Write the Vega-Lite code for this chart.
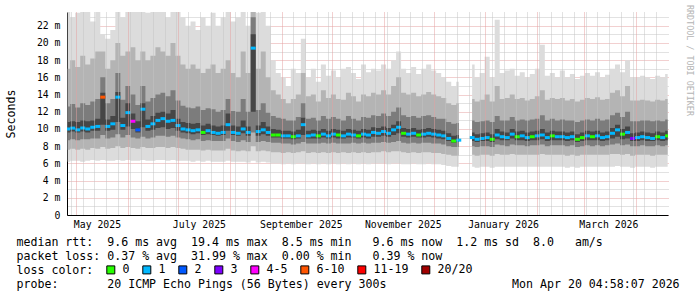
{
"$schema":"https://vega.github.io/schema/vega-lite/v6.json",
"width":601,"height":203,
"autosize":{"type":"none"},
"padding":{"left":67,"top":12,"right":29,"bottom":82},
"background":"white",
"view":{"stroke":null},
"config":{"font":"DejaVu Sans Mono",
 "legend":{"padding":0,"titlePadding":0},
 "axisY":{"labelFont":"DejaVu Sans Mono","labelFontSize":9.8,"labelColor":"black","labelPadding":7,"labelOverlap":false,"labelFlush":false,
   "ticks":false,"tickSize":0,"domainColor":"black","domainWidth":1,"grid":true,"gridDash":[1,1],"gridWidth":1,"zindex":1,
   "titleFont":"DejaVu Sans Mono","titleFontSize":11.6,"titleFontWeight":"normal","titleColor":"black",
   "titleX":-56,"titleY":101.5,"titleAngle":270,"titleAlign":"center","titleBaseline":"middle"}},
"title":{"text":"RRDTOOL / TOBI OETIKER","orient":"right","anchor":"start","frame":"group","angle":90,"font":"DejaVu Sans Mono","fontSize":8.4,"fontWeight":"normal","color":"#b4b4b4","offset":6,"dx":-7},
"data":{"values":[
{"t":"2025-04-26","s":1,"lo":6.2,"a":7.6,"b":8.7,"c":9.6,"m":10.0,"d":10.8,"e":12.6,"f":17.0,"hi":24.0,"k":"1"},
{"t":"2025-04-29","s":1,"lo":6.3,"a":7.7,"b":8.8,"c":9.7,"m":10.1,"d":10.9,"e":12.9,"f":18.0,"hi":23.0,"k":"1"},
{"t":"2025-05-02","s":1,"lo":6.3,"a":7.6,"b":8.7,"c":9.6,"m":9.9,"d":10.8,"e":12.5,"f":17.2,"hi":23.5,"k":"1"},
{"t":"2025-05-05","s":1,"lo":6.2,"a":7.7,"b":8.8,"c":9.7,"m":10.1,"d":11.0,"e":13.0,"f":18.5,"hi":25.0,"k":"1"},
{"t":"2025-05-08","s":1,"lo":6.3,"a":7.6,"b":8.8,"c":9.6,"m":10.0,"d":10.9,"e":12.8,"f":17.5,"hi":24.0,"k":"1"},
{"t":"2025-05-11","s":1,"lo":6.4,"a":7.8,"b":8.9,"c":9.8,"m":10.2,"d":11.0,"e":13.2,"f":18.2,"hi":22.5,"k":"1"},
{"t":"2025-05-14","s":1,"lo":6.3,"a":7.7,"b":8.9,"c":9.8,"m":10.3,"d":11.2,"e":13.5,"f":19.0,"hi":24.0,"k":"1"},
{"t":"2025-05-17","s":1,"lo":6.4,"a":7.9,"b":9.3,"c":10.5,"m":13.7,"d":14.2,"e":16.0,"f":19.0,"hi":21.0,"k":"6-10"},
{"t":"2025-05-20","s":1,"lo":6.3,"a":7.7,"b":8.9,"c":9.8,"m":10.3,"d":11.1,"e":13.0,"f":17.0,"hi":20.5,"k":"1"},
{"t":"2025-05-23","s":1,"lo":6.3,"a":7.8,"b":9.0,"c":9.9,"m":10.6,"d":11.5,"e":13.5,"f":18.0,"hi":21.5,"k":"1"},
{"t":"2025-05-26","s":1,"lo":6.4,"a":8.0,"b":9.4,"c":10.8,"m":13.7,"d":14.3,"e":16.5,"f":20.0,"hi":24.0,"k":"1"},
{"t":"2025-05-29","s":1,"lo":6.3,"a":7.8,"b":9.0,"c":9.9,"m":10.4,"d":11.3,"e":13.4,"f":18.5,"hi":23.0,"k":"1"},
{"t":"2025-06-01","s":1,"lo":6.4,"a":7.9,"b":9.3,"c":10.3,"m":11.9,"d":13.0,"e":15.0,"f":19.0,"hi":24.0,"k":"1"},
{"t":"2025-06-04","s":1,"lo":6.3,"a":7.8,"b":9.0,"c":10.0,"m":10.9,"d":11.8,"e":14.0,"f":19.5,"hi":25.0,"k":"4-5"},
{"t":"2025-06-07","s":1,"lo":6.3,"a":7.7,"b":8.9,"c":9.6,"m":9.9,"d":10.9,"e":12.8,"f":18.0,"hi":24.0,"k":"2"},
{"t":"2025-06-10","s":1,"lo":6.4,"a":7.9,"b":9.1,"c":10.2,"m":12.3,"d":13.0,"e":15.0,"f":19.0,"hi":24.0,"k":"1"},
{"t":"2025-06-13","s":1,"lo":6.3,"a":7.8,"b":8.9,"c":9.8,"m":10.3,"d":11.1,"e":13.2,"f":18.0,"hi":23.5,"k":"1"},
{"t":"2025-06-16","s":1,"lo":6.3,"a":7.8,"b":9.0,"c":9.9,"m":10.6,"d":11.5,"e":13.6,"f":18.5,"hi":24.0,"k":"1"},
{"t":"2025-06-19","s":1,"lo":6.4,"a":7.9,"b":9.2,"c":10.1,"m":11.0,"d":11.9,"e":14.0,"f":19.5,"hi":26.0,"k":"1"},
{"t":"2025-06-22","s":1,"lo":6.4,"a":7.9,"b":9.2,"c":10.2,"m":11.2,"d":12.0,"e":14.2,"f":19.0,"hi":24.0,"k":"1"},
{"t":"2025-06-25","s":1,"lo":6.3,"a":7.8,"b":9.1,"c":10.0,"m":10.9,"d":11.8,"e":13.8,"f":18.5,"hi":23.0,"k":"1"},
{"t":"2025-06-28","s":1,"lo":6.4,"a":7.9,"b":9.2,"c":10.1,"m":11.0,"d":12.2,"e":14.5,"f":20.0,"hi":26.0,"k":"1"},
{"t":"2025-07-01","s":1,"lo":6.3,"a":7.8,"b":9.0,"c":9.8,"m":10.4,"d":11.2,"e":13.3,"f":18.5,"hi":24.0,"k":"1"},
{"t":"2025-07-04","s":1,"lo":6.3,"a":7.7,"b":8.9,"c":9.6,"m":10.0,"d":10.8,"e":12.7,"f":17.5,"hi":23.0,"k":"1"},
{"t":"2025-07-07","s":1,"lo":6.3,"a":7.6,"b":8.8,"c":9.5,"m":9.9,"d":10.7,"e":12.5,"f":17.0,"hi":22.0,"k":"1"},
{"t":"2025-07-10","s":1,"lo":6.2,"a":7.6,"b":8.7,"c":9.4,"m":9.8,"d":10.6,"e":12.4,"f":17.5,"hi":22.5,"k":"1"},
{"t":"2025-07-13","s":1,"lo":6.3,"a":7.6,"b":8.8,"c":9.5,"m":9.9,"d":10.7,"e":12.6,"f":17.0,"hi":21.5,"k":"1"},
{"t":"2025-07-16","s":1,"lo":6.2,"a":7.5,"b":8.6,"c":9.3,"m":9.6,"d":10.4,"e":12.2,"f":16.5,"hi":23.0,"k":"0"},
{"t":"2025-07-19","s":1,"lo":6.3,"a":7.6,"b":8.7,"c":9.4,"m":9.8,"d":10.6,"e":12.4,"f":17.0,"hi":22.0,"k":"1"},
{"t":"2025-07-22","s":1,"lo":6.2,"a":7.5,"b":8.6,"c":9.3,"m":9.6,"d":10.4,"e":12.3,"f":17.5,"hi":23.5,"k":"1"},
{"t":"2025-07-25","s":1,"lo":6.2,"a":7.5,"b":8.6,"c":9.2,"m":9.5,"d":10.3,"e":12.0,"f":16.5,"hi":22.0,"k":"1"},
{"t":"2025-07-28","s":1,"lo":6.2,"a":7.5,"b":8.6,"c":9.3,"m":9.6,"d":10.4,"e":12.2,"f":17.0,"hi":23.0,"k":"1"},
{"t":"2025-07-31","s":1,"lo":6.3,"a":7.7,"b":8.9,"c":9.8,"m":10.5,"d":11.8,"e":13.5,"f":18.0,"hi":24.0,"k":"1"},
{"t":"2025-08-03","s":1,"lo":6.2,"a":7.5,"b":8.6,"c":9.3,"m":9.6,"d":10.4,"e":12.1,"f":16.5,"hi":22.5,"k":"1"},
{"t":"2025-08-06","s":1,"lo":6.2,"a":7.4,"b":8.5,"c":9.2,"m":9.5,"d":10.3,"e":12.0,"f":16.0,"hi":23.0,"k":"1"},
{"t":"2025-08-09","s":1,"lo":6.2,"a":7.5,"b":8.7,"c":9.5,"m":10.0,"d":11.0,"e":13.5,"f":19.0,"hi":26.0,"k":"1"},
{"t":"2025-08-12","s":1,"lo":6.1,"a":7.4,"b":8.5,"c":9.2,"m":9.6,"d":10.3,"e":12.0,"f":16.5,"hi":22.0,"k":"1"},
{"t":"2025-08-15","s":1,"lo":6.3,"a":8.0,"b":9.6,"c":12.0,"m":19.4,"d":21.0,"e":23.0,"f":26.0,"hi":30.0,"k":"1"},
{"t":"2025-08-18","s":1,"lo":6.1,"a":7.4,"b":8.5,"c":9.2,"m":9.7,"d":10.4,"e":12.2,"f":17.0,"hi":23.5,"k":"1"},
{"t":"2025-08-21","s":1,"lo":6.2,"a":7.5,"b":8.6,"c":9.4,"m":9.9,"d":10.8,"e":13.0,"f":19.0,"hi":25.0,"k":"1"},
{"t":"2025-08-24","s":1,"lo":6.1,"a":7.4,"b":8.5,"c":9.2,"m":9.6,"d":10.3,"e":11.9,"f":16.0,"hi":22.0,"k":"1"},
{"t":"2025-08-27","s":1,"lo":6.0,"a":7.3,"b":8.4,"c":9.0,"m":9.3,"d":10.0,"e":11.5,"f":14.5,"hi":18.0,"k":"0"},
{"t":"2025-08-30","s":1,"lo":6.0,"a":7.3,"b":8.4,"c":9.0,"m":9.3,"d":9.9,"e":11.3,"f":14.0,"hi":16.5,"k":"0"},
{"t":"2025-09-02","s":1,"lo":5.9,"a":7.2,"b":8.3,"c":8.9,"m":9.2,"d":9.8,"e":11.2,"f":13.5,"hi":16.0,"k":"1"},
{"t":"2025-09-05","s":1,"lo":6.0,"a":7.3,"b":8.3,"c":8.9,"m":9.2,"d":9.8,"e":11.0,"f":13.0,"hi":15.0,"k":"1"},
{"t":"2025-09-08","s":1,"lo":5.9,"a":7.2,"b":8.2,"c":8.8,"m":9.1,"d":9.7,"e":11.0,"f":13.5,"hi":17.0,"k":"0"},
{"t":"2025-09-11","s":1,"lo":6.0,"a":7.3,"b":8.3,"c":8.9,"m":9.2,"d":9.9,"e":11.4,"f":14.0,"hi":16.5,"k":"1"},
{"t":"2025-09-14","s":1,"lo":6.0,"a":7.4,"b":8.5,"c":9.3,"m":10.5,"d":11.3,"e":13.0,"f":16.5,"hi":20.5,"k":"1"},
{"t":"2025-09-17","s":1,"lo":5.9,"a":7.2,"b":8.3,"c":8.9,"m":9.2,"d":9.8,"e":11.2,"f":13.8,"hi":16.0,"k":"1"},
{"t":"2025-09-20","s":1,"lo":6.0,"a":7.3,"b":8.3,"c":8.9,"m":9.3,"d":9.9,"e":11.3,"f":14.0,"hi":17.0,"k":"1"},
{"t":"2025-09-23","s":1,"lo":5.9,"a":7.2,"b":8.3,"c":8.9,"m":9.2,"d":9.8,"e":11.0,"f":13.2,"hi":15.5,"k":"0"},
{"t":"2025-09-26","s":1,"lo":6.0,"a":7.3,"b":8.4,"c":9.0,"m":9.4,"d":10.0,"e":11.5,"f":14.5,"hi":17.5,"k":"1"},
{"t":"2025-09-29","s":1,"lo":5.9,"a":7.2,"b":8.3,"c":8.9,"m":9.2,"d":9.8,"e":11.2,"f":13.6,"hi":16.2,"k":"1"},
{"t":"2025-10-02","s":1,"lo":6.0,"a":7.3,"b":8.4,"c":9.0,"m":9.4,"d":10.0,"e":11.4,"f":14.0,"hi":16.8,"k":"1"},
{"t":"2025-10-05","s":1,"lo":5.9,"a":7.2,"b":8.3,"c":8.9,"m":9.3,"d":9.9,"e":11.2,"f":13.5,"hi":16.0,"k":"0"},
{"t":"2025-10-08","s":1,"lo":6.0,"a":7.3,"b":8.3,"c":8.9,"m":9.2,"d":9.8,"e":11.0,"f":13.4,"hi":17.0,"k":"1"},
{"t":"2025-10-11","s":1,"lo":5.9,"a":7.2,"b":8.3,"c":9.0,"m":9.4,"d":10.0,"e":11.5,"f":14.2,"hi":17.2,"k":"1"},
{"t":"2025-10-14","s":1,"lo":6.0,"a":7.3,"b":8.4,"c":9.0,"m":9.3,"d":9.9,"e":11.2,"f":13.8,"hi":16.5,"k":"1"},
{"t":"2025-10-17","s":1,"lo":5.9,"a":7.2,"b":8.3,"c":8.9,"m":9.2,"d":9.8,"e":11.0,"f":13.2,"hi":15.8,"k":"0"},
{"t":"2025-10-20","s":1,"lo":6.0,"a":7.3,"b":8.4,"c":9.0,"m":9.4,"d":10.0,"e":11.4,"f":14.0,"hi":17.5,"k":"1"},
{"t":"2025-10-23","s":1,"lo":5.9,"a":7.2,"b":8.3,"c":8.9,"m":9.3,"d":9.9,"e":11.3,"f":13.8,"hi":16.6,"k":"1"},
{"t":"2025-10-26","s":1,"lo":6.0,"a":7.3,"b":8.4,"c":9.1,"m":9.6,"d":10.2,"e":11.6,"f":14.2,"hi":17.0,"k":"1"},
{"t":"2025-10-29","s":1,"lo":6.0,"a":7.3,"b":8.4,"c":9.1,"m":9.5,"d":10.1,"e":11.5,"f":14.0,"hi":16.8,"k":"1"},
{"t":"2025-11-01","s":1,"lo":6.0,"a":7.4,"b":8.5,"c":9.2,"m":9.7,"d":10.3,"e":11.8,"f":14.5,"hi":17.5,"k":"1"},
{"t":"2025-11-04","s":1,"lo":5.9,"a":7.3,"b":8.4,"c":9.1,"m":9.5,"d":10.1,"e":11.5,"f":14.0,"hi":17.0,"k":"1"},
{"t":"2025-11-07","s":1,"lo":6.0,"a":7.4,"b":8.5,"c":9.3,"m":9.9,"d":10.5,"e":12.0,"f":15.0,"hi":18.0,"k":"1"},
{"t":"2025-11-10","s":1,"lo":6.0,"a":7.4,"b":8.6,"c":9.5,"m":10.2,"d":10.9,"e":12.5,"f":16.0,"hi":19.0,"k":"1"},
{"t":"2025-11-13","s":1,"lo":5.9,"a":7.3,"b":8.4,"c":9.1,"m":9.5,"d":10.1,"e":11.6,"f":14.2,"hi":17.0,"k":"0"},
{"t":"2025-11-16","s":1,"lo":5.9,"a":7.2,"b":8.3,"c":9.0,"m":9.4,"d":10.0,"e":11.4,"f":14.0,"hi":16.5,"k":"1"},
{"t":"2025-11-19","s":1,"lo":6.0,"a":7.3,"b":8.4,"c":9.1,"m":9.5,"d":10.1,"e":11.5,"f":14.2,"hi":17.2,"k":"1"},
{"t":"2025-11-22","s":1,"lo":5.9,"a":7.2,"b":8.3,"c":9.0,"m":9.3,"d":9.9,"e":11.3,"f":13.8,"hi":16.4,"k":"0"},
{"t":"2025-11-25","s":1,"lo":5.9,"a":7.3,"b":8.4,"c":9.0,"m":9.4,"d":10.0,"e":11.5,"f":14.0,"hi":17.0,"k":"1"},
{"t":"2025-11-28","s":1,"lo":6.0,"a":7.3,"b":8.4,"c":9.1,"m":9.5,"d":10.1,"e":11.6,"f":14.3,"hi":17.5,"k":"1"},
{"t":"2025-12-01","s":1,"lo":5.9,"a":7.2,"b":8.3,"c":9.0,"m":9.4,"d":10.0,"e":11.4,"f":14.0,"hi":16.8,"k":"1"},
{"t":"2025-12-04","s":1,"lo":5.9,"a":7.2,"b":8.3,"c":8.9,"m":9.3,"d":9.9,"e":11.2,"f":13.8,"hi":16.5,"k":"1"},
{"t":"2025-12-07","s":1,"lo":5.8,"a":7.1,"b":8.2,"c":8.8,"m":9.2,"d":9.8,"e":11.2,"f":13.6,"hi":16.0,"k":"1"},
{"t":"2025-12-10","s":1,"lo":5.7,"a":7.0,"b":8.0,"c":8.6,"m":8.9,"d":9.5,"e":10.8,"f":13.0,"hi":15.5,"k":"1"},
{"t":"2025-12-13","s":1,"lo":5.6,"a":6.9,"b":7.9,"c":8.4,"m":8.6,"d":9.2,"e":10.6,"f":12.8,"hi":15.0,"k":"0"},
{"t":"2025-12-16","s":1,"lo":5.6,"a":6.9,"b":7.9,"c":8.5,"m":8.7,"d":9.3,"e":10.7,"f":13.0,"hi":15.5,"k":"1"},
{"t":"2025-12-24","s":2,"lo":5.6,"a":7.0,"b":8.0,"c":8.6,"m":9.0,"d":9.6,"e":11.0,"f":13.5,"hi":17.5,"k":"1"},
{"t":"2025-12-27","s":2,"lo":5.5,"a":6.9,"b":7.9,"c":8.5,"m":8.8,"d":9.4,"e":10.8,"f":13.2,"hi":16.0,"k":"1"},
{"t":"2025-12-30","s":2,"lo":5.6,"a":7.0,"b":8.0,"c":8.6,"m":8.9,"d":9.5,"e":10.9,"f":13.4,"hi":16.5,"k":"1"},
{"t":"2026-01-02","s":2,"lo":5.6,"a":7.0,"b":8.0,"c":8.6,"m":9.0,"d":9.6,"e":11.0,"f":14.0,"hi":18.4,"k":"1"},
{"t":"2026-01-05","s":2,"lo":5.5,"a":6.9,"b":7.9,"c":8.5,"m":8.8,"d":9.4,"e":10.8,"f":13.2,"hi":16.0,"k":"0"},
{"t":"2026-01-08","s":2,"lo":5.6,"a":7.1,"b":8.2,"c":8.8,"m":9.3,"d":10.0,"e":11.5,"f":15.0,"hi":22.7,"k":"1"},
{"t":"2026-01-11","s":2,"lo":5.6,"a":7.0,"b":8.1,"c":8.7,"m":9.1,"d":9.7,"e":11.0,"f":13.5,"hi":16.5,"k":"1"},
{"t":"2026-01-14","s":2,"lo":5.6,"a":7.0,"b":8.0,"c":8.7,"m":9.0,"d":9.6,"e":11.0,"f":13.6,"hi":16.8,"k":"1"},
{"t":"2026-01-17","s":2,"lo":5.6,"a":7.1,"b":8.2,"c":8.9,"m":9.4,"d":10.0,"e":11.4,"f":14.0,"hi":17.0,"k":"1"},
{"t":"2026-01-20","s":2,"lo":5.6,"a":7.0,"b":8.1,"c":8.7,"m":9.1,"d":9.7,"e":11.0,"f":13.5,"hi":16.2,"k":"0"},
{"t":"2026-01-23","s":2,"lo":5.6,"a":7.0,"b":8.1,"c":8.7,"m":9.2,"d":9.8,"e":11.1,"f":13.6,"hi":16.6,"k":"1"},
{"t":"2026-01-26","s":2,"lo":5.6,"a":7.0,"b":8.0,"c":8.6,"m":9.0,"d":9.6,"e":11.0,"f":13.3,"hi":16.0,"k":"1"},
{"t":"2026-01-29","s":2,"lo":5.6,"a":7.0,"b":8.1,"c":8.7,"m":9.1,"d":9.7,"e":11.1,"f":13.5,"hi":16.4,"k":"0"},
{"t":"2026-02-01","s":2,"lo":5.6,"a":7.0,"b":8.1,"c":8.7,"m":9.2,"d":9.8,"e":11.2,"f":13.8,"hi":17.0,"k":"1"},
{"t":"2026-02-04","s":2,"lo":5.6,"a":7.1,"b":8.2,"c":8.8,"m":9.3,"d":10.0,"e":11.6,"f":14.5,"hi":19.8,"k":"1"},
{"t":"2026-02-07","s":2,"lo":5.6,"a":7.0,"b":8.0,"c":8.6,"m":9.0,"d":9.6,"e":11.0,"f":13.4,"hi":16.2,"k":"1"},
{"t":"2026-02-10","s":2,"lo":5.6,"a":7.0,"b":8.1,"c":8.7,"m":9.2,"d":9.8,"e":11.2,"f":13.6,"hi":16.5,"k":"0"},
{"t":"2026-02-13","s":2,"lo":5.6,"a":7.0,"b":8.1,"c":8.7,"m":9.1,"d":9.7,"e":11.0,"f":13.5,"hi":16.0,"k":"1"},
{"t":"2026-02-16","s":2,"lo":5.6,"a":7.0,"b":8.1,"c":8.7,"m":9.1,"d":9.7,"e":11.1,"f":13.6,"hi":16.8,"k":"1"},
{"t":"2026-02-19","s":2,"lo":5.5,"a":6.9,"b":8.0,"c":8.6,"m":9.0,"d":9.6,"e":11.0,"f":13.3,"hi":16.0,"k":"1"},
{"t":"2026-02-22","s":2,"lo":5.6,"a":7.0,"b":8.1,"c":8.7,"m":9.1,"d":9.7,"e":11.0,"f":13.5,"hi":16.4,"k":"1"},
{"t":"2026-02-25","s":2,"lo":5.5,"a":6.9,"b":7.9,"c":8.5,"m":8.8,"d":9.4,"e":10.8,"f":13.2,"hi":15.8,"k":"0"},
{"t":"2026-02-28","s":2,"lo":5.6,"a":7.0,"b":8.0,"c":8.6,"m":9.0,"d":9.6,"e":11.0,"f":13.4,"hi":16.2,"k":"0"},
{"t":"2026-03-03","s":2,"lo":5.6,"a":7.0,"b":8.1,"c":8.7,"m":9.2,"d":9.8,"e":11.1,"f":13.6,"hi":16.5,"k":"1"},
{"t":"2026-03-06","s":2,"lo":5.6,"a":7.0,"b":8.0,"c":8.7,"m":9.1,"d":9.7,"e":11.0,"f":13.5,"hi":16.2,"k":"0"},
{"t":"2026-03-09","s":2,"lo":5.6,"a":7.0,"b":8.1,"c":8.7,"m":9.2,"d":9.8,"e":11.2,"f":13.7,"hi":16.6,"k":"1"},
{"t":"2026-03-12","s":2,"lo":5.6,"a":7.0,"b":8.0,"c":8.6,"m":9.0,"d":9.6,"e":11.0,"f":13.4,"hi":16.0,"k":"1"},
{"t":"2026-03-15","s":2,"lo":5.6,"a":7.0,"b":8.1,"c":8.7,"m":9.1,"d":9.7,"e":11.1,"f":13.5,"hi":16.3,"k":"1"},
{"t":"2026-03-18","s":2,"lo":5.6,"a":7.1,"b":8.2,"c":8.9,"m":9.5,"d":10.1,"e":11.6,"f":14.2,"hi":17.0,"k":"1"},
{"t":"2026-03-21","s":2,"lo":5.7,"a":7.1,"b":8.3,"c":9.1,"m":9.9,"d":10.5,"e":11.9,"f":14.5,"hi":17.5,"k":"1"},
{"t":"2026-03-24","s":2,"lo":5.6,"a":7.0,"b":8.1,"c":8.8,"m":9.4,"d":10.0,"e":11.4,"f":13.8,"hi":16.6,"k":"0"},
{"t":"2026-03-27","s":2,"lo":5.6,"a":7.1,"b":8.2,"c":8.9,"m":9.6,"d":10.3,"e":12.0,"f":15.0,"hi":18.0,"k":"1"},
{"t":"2026-03-30","s":2,"lo":5.5,"a":6.9,"b":8.0,"c":8.6,"m":8.9,"d":9.5,"e":10.9,"f":13.3,"hi":16.0,"k":"3"},
{"t":"2026-04-02","s":2,"lo":5.6,"a":7.0,"b":8.0,"c":8.6,"m":9.0,"d":9.6,"e":10.9,"f":13.3,"hi":16.0,"k":"1"},
{"t":"2026-04-05","s":2,"lo":5.6,"a":7.0,"b":8.1,"c":8.7,"m":9.1,"d":9.7,"e":11.0,"f":13.4,"hi":16.2,"k":"1"},
{"t":"2026-04-08","s":2,"lo":5.6,"a":7.0,"b":8.0,"c":8.6,"m":9.0,"d":9.6,"e":11.0,"f":13.3,"hi":16.0,"k":"1"},
{"t":"2026-04-11","s":2,"lo":5.5,"a":6.9,"b":8.0,"c":8.6,"m":8.9,"d":9.5,"e":10.9,"f":13.2,"hi":15.8,"k":"1"},
{"t":"2026-04-14","s":2,"lo":5.6,"a":7.0,"b":8.1,"c":8.7,"m":9.1,"d":9.7,"e":11.0,"f":13.4,"hi":16.2,"k":"0"},
{"t":"2026-04-17","s":2,"lo":5.6,"a":7.0,"b":8.0,"c":8.6,"m":9.0,"d":9.6,"e":10.9,"f":13.3,"hi":16.0,"k":"1"},
{"t":"2026-04-20","s":2,"lo":5.6,"a":7.0,"b":8.1,"c":8.7,"m":9.2,"d":9.8,"e":11.1,"f":13.5,"hi":16.4,"k":"0"}
]},
"encoding":{
 "x":{"field":"t","type":"temporal",
  "scale":{"type":"utc","domain":[{"year":2025,"month":4,"date":25,"hours":14,"utc":true},{"year":2026,"month":4,"date":20,"hours":5,"utc":true}]},
  "axis":{
   "values":[
    {"year":2025,"month":5,"date":1,"utc":true},{"year":2025,"month":6,"date":1,"utc":true},{"year":2025,"month":7,"date":1,"utc":true},{"year":2025,"month":8,"date":1,"utc":true},{"year":2025,"month":9,"date":1,"utc":true},{"year":2025,"month":10,"date":1,"utc":true},{"year":2025,"month":11,"date":1,"utc":true},{"year":2025,"month":12,"date":1,"utc":true},{"year":2026,"month":1,"date":1,"utc":true},{"year":2026,"month":2,"date":1,"utc":true},{"year":2026,"month":3,"date":1,"utc":true},{"year":2026,"month":4,"date":1,"utc":true},
    {"year":2025,"month":4,"date":28,"utc":true},{"year":2025,"month":5,"date":5,"utc":true},{"year":2025,"month":5,"date":12,"utc":true},{"year":2025,"month":5,"date":19,"utc":true},{"year":2025,"month":5,"date":26,"utc":true},{"year":2025,"month":6,"date":2,"utc":true},{"year":2025,"month":6,"date":9,"utc":true},{"year":2025,"month":6,"date":16,"utc":true},{"year":2025,"month":6,"date":23,"utc":true},{"year":2025,"month":6,"date":30,"utc":true},{"year":2025,"month":7,"date":7,"utc":true},{"year":2025,"month":7,"date":14,"utc":true},{"year":2025,"month":7,"date":21,"utc":true},{"year":2025,"month":7,"date":28,"utc":true},{"year":2025,"month":8,"date":4,"utc":true},{"year":2025,"month":8,"date":11,"utc":true},{"year":2025,"month":8,"date":18,"utc":true},{"year":2025,"month":8,"date":25,"utc":true},{"year":2025,"month":9,"date":8,"utc":true},{"year":2025,"month":9,"date":15,"utc":true},{"year":2025,"month":9,"date":22,"utc":true},{"year":2025,"month":9,"date":29,"utc":true},{"year":2025,"month":10,"date":6,"utc":true},{"year":2025,"month":10,"date":13,"utc":true},{"year":2025,"month":10,"date":20,"utc":true},{"year":2025,"month":10,"date":27,"utc":true},{"year":2025,"month":11,"date":3,"utc":true},{"year":2025,"month":11,"date":10,"utc":true},{"year":2025,"month":11,"date":17,"utc":true},{"year":2025,"month":11,"date":24,"utc":true},{"year":2025,"month":12,"date":8,"utc":true},{"year":2025,"month":12,"date":15,"utc":true},{"year":2025,"month":12,"date":22,"utc":true},{"year":2025,"month":12,"date":29,"utc":true},{"year":2026,"month":1,"date":5,"utc":true},{"year":2026,"month":1,"date":12,"utc":true},{"year":2026,"month":1,"date":19,"utc":true},{"year":2026,"month":1,"date":26,"utc":true},{"year":2026,"month":2,"date":2,"utc":true},{"year":2026,"month":2,"date":9,"utc":true},{"year":2026,"month":2,"date":16,"utc":true},{"year":2026,"month":2,"date":23,"utc":true},{"year":2026,"month":3,"date":2,"utc":true},{"year":2026,"month":3,"date":9,"utc":true},{"year":2026,"month":3,"date":16,"utc":true},{"year":2026,"month":3,"date":23,"utc":true},{"year":2026,"month":3,"date":30,"utc":true},{"year":2026,"month":4,"date":6,"utc":true},{"year":2026,"month":4,"date":13,"utc":true},
    {"year":2025,"month":5,"date":13,"hours":12,"utc":true},{"year":2025,"month":7,"date":13,"hours":12,"utc":true},{"year":2025,"month":9,"date":12,"hours":12,"utc":true},{"year":2025,"month":11,"date":12,"hours":12,"utc":true},{"year":2026,"month":1,"date":11,"hours":12,"utc":true},{"year":2026,"month":3,"date":15,"hours":12,"utc":true}
   ],
   "labelExpr":"utchours(datum.value) == 12 ? utcFormat(datum.value, '%B %Y') : ''",
   "labelOverlap":false,"labelFlush":false,
   "labelFont":"DejaVu Sans Mono","labelFontSize":9.8,"labelColor":"black","labelPadding":4,
   "ticks":false,"tickSize":0,
   "domainColor":"black","domainWidth":1,
   "grid":true,"gridDash":[1,1],"gridWidth":1,
   "gridColor":{"condition":{"test":"utcdate(datum.value) == 1","value":"#e4a0a0"},"value":"#c4c4c4"},
   "gridOpacity":{"condition":{"test":"utchours(datum.value) == 12","value":0},"value":1},
   "zindex":1,
   "title":["median rtt:\u00a0\u00a09.6 ms avg\u00a0\u00a019.4 ms max\u00a0\u00a08.5 ms min\u00a0\u00a0\u00a09.6 ms now\u00a0\u00a01.2 ms sd\u00a0\u00a08.0\u00a0\u00a0\u00a0am/s",
            "packet loss: 0.37 % avg\u00a0\u00a031.99 % max\u00a0\u00a00.00 % min\u00a0\u00a0\u00a00.39 % now",
            "loss color:",
            "probe:\u00a0\u00a0\u00a0\u00a0\u00a0\u00a0\u00a020 ICMP Echo Pings (56 Bytes) every 300s\u00a0\u00a0\u00a0\u00a0\u00a0\u00a0\u00a0\u00a0\u00a0\u00a0\u00a0\u00a0\u00a0\u00a0\u00a0\u00a0\u00a0\u00a0Mon Apr 20 04:58:07 2026"],
   "titleFont":"DejaVu Sans Mono","titleFontSize":11.6,"titleFontWeight":"normal","titleColor":"black",
   "titleAlign":"left","titleAnchor":"start","titleAngle":0,"titleBaseline":"alphabetic",
   "titleX":-51,"titleY":30,"titleLineHeight":14.3
  }},
 "detail":{"field":"s","type":"nominal"}
},
"layer":[
 {"mark":{"type":"area","interpolate":"step","color":"#dcdcdc","clip":true},
  "encoding":{
   "y":{"field":"lo","type":"quantitative","scale":{"domain":[0,23.6],"nice":false,"zero":true},
    "axis":{"title":"Seconds","values":[0,1,2,3,4,5,6,7,8,9,10,11,12,13,14,15,16,17,18,19,20,21,22,23],
     "labelExpr":"datum.value % 2 == 0 ? (datum.value == 0 ? '0' : datum.value + ' m') : ''",
     "gridColor":{"condition":{"test":"datum.value % 2 == 0","value":"#e4a0a0"},"value":"#c4c4c4"}}},
   "y2":{"field":"hi"}}},
 {"mark":{"type":"area","interpolate":"step","color":"#b4b4b4","clip":true},
  "encoding":{"y":{"field":"a","type":"quantitative",
    "axis":{"title":"Seconds","values":[0,1,2,3,4,5,6,7,8,9,10,11,12,13,14,15,16,17,18,19,20,21,22,23],
     "labelExpr":"datum.value % 2 == 0 ? (datum.value == 0 ? '0' : datum.value + ' m') : ''",
     "gridColor":{"condition":{"test":"datum.value % 2 == 0","value":"#e4a0a0"},"value":"#c4c4c4"}}},"y2":{"field":"f"}}},
 {"mark":{"type":"area","interpolate":"step","color":"#7c7c7c","clip":true},
  "encoding":{"y":{"field":"b","type":"quantitative",
    "axis":{"title":"Seconds","values":[0,1,2,3,4,5,6,7,8,9,10,11,12,13,14,15,16,17,18,19,20,21,22,23],
     "labelExpr":"datum.value % 2 == 0 ? (datum.value == 0 ? '0' : datum.value + ' m') : ''",
     "gridColor":{"condition":{"test":"datum.value % 2 == 0","value":"#e4a0a0"},"value":"#c4c4c4"}}},"y2":{"field":"e"}}},
 {"mark":{"type":"area","interpolate":"step","color":"#464646","clip":true},
  "encoding":{"y":{"field":"c","type":"quantitative",
    "axis":{"title":"Seconds","values":[0,1,2,3,4,5,6,7,8,9,10,11,12,13,14,15,16,17,18,19,20,21,22,23],
     "labelExpr":"datum.value % 2 == 0 ? (datum.value == 0 ? '0' : datum.value + ' m') : ''",
     "gridColor":{"condition":{"test":"datum.value % 2 == 0","value":"#e4a0a0"},"value":"#c4c4c4"}}},"y2":{"field":"d"}}},
 {"mark":{"type":"tick","orient":"horizontal","size":5,"thickness":3,"opacity":1,"clip":true},
  "encoding":{"y":{"field":"m","type":"quantitative",
    "axis":{"title":"Seconds","values":[0,1,2,3,4,5,6,7,8,9,10,11,12,13,14,15,16,17,18,19,20,21,22,23],
     "labelExpr":"datum.value % 2 == 0 ? (datum.value == 0 ? '0' : datum.value + ' m') : ''",
     "gridColor":{"condition":{"test":"datum.value % 2 == 0","value":"#e4a0a0"},"value":"#c4c4c4"}}},
   "color":{"field":"k","type":"nominal",
    "scale":{"domain":["0","1","2","3","4-5","6-10","11-19","20/20"],"range":["#26ff00","#00b8ff","#0059ff","#7e00ff","#ff00ff","#ff5500","#ff0000","#a10000"]},
    "legend":{"orient":"none","legendX":38,"legendY":252,"direction":"horizontal","columns":8,"title":null,
     "symbolType":"square","symbolSize":64,"symbolStrokeColor":"black","symbolStrokeWidth":1,"symbolOpacity":1,
     "labelFont":"DejaVu Sans Mono","labelFontSize":11.6,"labelColor":"black","labelOffset":6,"columnPadding":10,"gridAlign":"each"}}}},
 {"data":{"values":[{"z":1}]},
  "mark":{"type":"point","shape":"triangle-right","filled":true,"color":"#8b1a1a","size":30,"opacity":1,"xOffset":3},
  "encoding":{"x":{"datum":{"year":2026,"month":4,"date":20,"hours":5,"utc":true},"type":"temporal"},
   "y":{"datum":0,"type":"quantitative",
    "axis":{"title":"Seconds","values":[0,1,2,3,4,5,6,7,8,9,10,11,12,13,14,15,16,17,18,19,20,21,22,23],
     "labelExpr":"datum.value % 2 == 0 ? (datum.value == 0 ? '0' : datum.value + ' m') : ''",
     "gridColor":{"condition":{"test":"datum.value % 2 == 0","value":"#e4a0a0"},"value":"#c4c4c4"}}}}},
 {"data":{"values":[{"z":1}]},
  "mark":{"type":"point","shape":"triangle-up","filled":true,"color":"#8b1a1a","size":30,"opacity":1,"yOffset":-1},
  "encoding":{"x":{"datum":{"year":2025,"month":4,"date":25,"hours":14,"utc":true},"type":"temporal"},
   "y":{"datum":23.6,"type":"quantitative",
    "axis":{"title":"Seconds","values":[0,1,2,3,4,5,6,7,8,9,10,11,12,13,14,15,16,17,18,19,20,21,22,23],
     "labelExpr":"datum.value % 2 == 0 ? (datum.value == 0 ? '0' : datum.value + ' m') : ''",
     "gridColor":{"condition":{"test":"datum.value % 2 == 0","value":"#e4a0a0"},"value":"#c4c4c4"}}}}}
]
}
